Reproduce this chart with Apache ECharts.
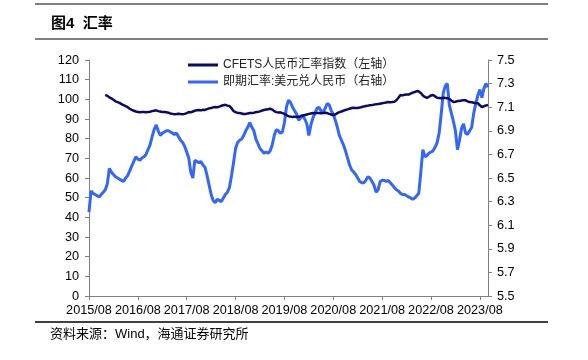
<!DOCTYPE html>
<html>
<head>
<meta charset="utf-8">
<script src="https://cdn.jsdelivr.net/npm/echarts@6/dist/echarts.min.js"></script>
<style>
html,body{margin:0;padding:0;background:#fff;}
#c{width:588px;height:360px;}
</style>
</head>
<body>
<div id="c"></div>
<script>
// Semi-monthly date categories, 2015/08 .. 2023/10
const categories = [];
for (let i = 0; i < 197; i++) {
  const m = 7 + Math.floor(i / 2);
  const y = 2015 + Math.floor(m / 12);
  const mm = String(m % 12 + 1).padStart(2, '0');
  categories.push(y + '/' + mm + '/' + (i % 2 ? '16' : '01'));
}

const seriesNames = ['CFETS人民币汇率指数（左轴）', '即期汇率:美元兑人民币（右轴）'];

// CFETS index (left axis), starts 2015/12
const cfets = [
  null, null, null, null, null, null, null, null,
  102.3, 101.8,
  101.0, 100.5, 99.8, 99.0, 98.6, 98.2, 97.6, 97.0, 96.5, 96.0,
  95.2, 94.6, 94.2, 93.8, 93.6, 93.4, 93.5, 93.6, 93.4, 93.5,
  93.7, 94.0, 94.2, 94.4, 94.0, 93.8, 93.5, 93.6, 93.4, 93.2,
  92.8, 92.6, 92.4, 92.5, 92.7, 92.5, 92.4, 92.6, 93.0, 93.5,
  93.4, 93.8, 94.2, 94.5, 94.6, 94.4, 94.7, 94.6, 95.0, 95.4,
  95.6, 95.9, 96.1, 96.0, 96.3, 96.7, 97.0, 97.2, 96.8, 96.6,
  95.5, 94.0, 93.5, 93.1, 93.0, 92.8, 92.5, 92.6, 92.8, 93.0,
  93.0, 93.2, 93.5, 93.6, 93.9, 94.3, 94.6, 94.8, 95.0, 95.2,
  94.8, 94.0, 93.5, 93.3, 93.4, 93.0, 92.6, 92.0, 91.4, 91.2,
  91.0, 91.2, 91.0, 91.1, 91.5, 91.8, 92.0, 92.3, 92.6, 92.8,
  93.0, 92.9, 93.0, 93.1, 92.9, 93.0, 93.2, 93.0, 92.6, 92.3,
  92.0, 92.3, 93.0, 93.5, 93.8, 94.2, 94.6, 94.9, 95.2, 95.6,
  95.7, 95.6, 95.6, 95.8, 96.1, 96.4, 96.6, 96.8, 97.0, 97.1,
  97.3, 97.5, 97.6, 97.8, 98.0, 98.2, 98.4, 98.6, 98.5, 98.6,
  98.8, 99.5, 100.8, 102.2, 102.0, 102.3, 102.5, 102.4, 102.9, 103.4,
  103.7, 104.2, 104.0, 103.2, 102.0, 101.2, 100.7, 101.3, 102.0, 102.2,
  101.5, 100.8, 100.7, 100.6, 100.8, 100.7, 100.6, 100.2, 99.4, 98.7,
  98.8, 99.1, 99.2, 99.4, 99.6, 99.5, 99.0, 98.6, 98.5, 98.3,
  98.1, 98.0, 97.0, 96.1, 96.5, 96.9, 97.1
];

// USD/CNY spot (right axis)
const usdcny = [
  6.21, 6.39, 6.37, 6.36, 6.35, 6.34, 6.36, 6.38, 6.40, 6.45,
  6.58, 6.55, 6.53, 6.51, 6.50, 6.49, 6.48, 6.47, 6.50, 6.52,
  6.56, 6.60, 6.64, 6.68, 6.66, 6.65, 6.67, 6.68, 6.70, 6.74,
  6.78, 6.85, 6.91, 6.95, 6.90, 6.86, 6.88, 6.89, 6.90, 6.90,
  6.89, 6.88, 6.87, 6.88, 6.85, 6.82, 6.80, 6.77, 6.72, 6.67,
  6.55, 6.50, 6.65, 6.64, 6.63, 6.64, 6.61, 6.59, 6.52, 6.44,
  6.36, 6.31, 6.29, 6.32, 6.31, 6.30, 6.33, 6.36, 6.38, 6.42,
  6.52, 6.63, 6.75, 6.80, 6.82, 6.83, 6.86, 6.90, 6.93, 6.97,
  6.93, 6.90, 6.83, 6.79, 6.75, 6.73, 6.71, 6.72, 6.71, 6.73,
  6.78, 6.86, 6.91, 6.90, 6.88, 6.89, 6.97, 7.10, 7.16, 7.14,
  7.10, 7.07, 7.04, 6.99, 7.01, 7.03, 7.00, 6.96, 6.86, 6.95,
  7.01, 7.05, 7.09, 7.10, 7.07, 7.06, 7.09, 7.13, 7.12, 7.07,
  7.04, 6.99, 6.93, 6.86, 6.82, 6.78, 6.73, 6.67, 6.61, 6.57,
  6.55, 6.53, 6.50, 6.47, 6.46, 6.46, 6.48, 6.51, 6.50, 6.47,
  6.44, 6.38, 6.40, 6.47, 6.48, 6.48, 6.47, 6.48, 6.46, 6.44,
  6.42, 6.40, 6.39, 6.37, 6.36, 6.36, 6.35, 6.34, 6.33, 6.32,
  6.33, 6.35, 6.37, 6.55, 6.74, 6.68, 6.69, 6.71, 6.72, 6.73,
  6.76, 6.80, 6.88, 7.04, 7.22, 7.28, 7.30, 7.12, 7.05, 6.98,
  6.90, 6.74, 6.82, 6.92, 6.96, 6.88, 6.87, 6.90, 6.93, 7.05,
  7.13, 7.20, 7.25, 7.18, 7.26, 7.30, 7.27
];

const rightTicks = [5.5, 5.7, 5.9, 6.1, 6.3, 6.5, 6.7, 6.9, 7.1, 7.3, 7.5];

const latin = 'Liberation Sans, Arial, Noto Sans CJK SC, sans-serif';
const cjk = 'Liberation Sans, Noto Sans CJK SC, sans-serif';

const chart = echarts.init(document.getElementById('c'), null, {renderer: 'canvas'});
chart.setOption({
  animation: false,
  backgroundColor: '#fff',
  title: {
    text: '图4  汇率',
    left: 46, top: 11,
    textStyle: {fontFamily: cjk, fontSize: 15, fontWeight: 'bold', color: '#000'}
  },
  graphic: [
    {type: 'line', shape: {x1: 35, y1: 4, x2: 548, y2: 4}, style: {stroke: '#808080', lineWidth: 2}},
    {type: 'line', shape: {x1: 35, y1: 39, x2: 548, y2: 39}, style: {stroke: '#808080', lineWidth: 2}},
    {type: 'line', shape: {x1: 35, y1: 322, x2: 548, y2: 322}, style: {stroke: '#000', lineWidth: 1.5}},
    {type: 'text', left: 50, top: 328, style: {text: '资料来源：Wind，海通证券研究所', fontFamily: cjk, fontSize: 13, fill: '#000'}}
  ],
  legend: {
    orient: 'vertical',
    left: 183, top: 53,
    icon: 'rect', itemWidth: 30, itemHeight: 3, itemGap: 3,
    textStyle: {fontFamily: cjk, fontSize: 12, color: '#222', lineHeight: 14},
    data: seriesNames
  },
  grid: {left: 89, right: 100, top: 60, bottom: 64, containLabel: false},
  xAxis: {
    type: 'category',
    data: categories,
    boundaryGap: false,
    axisLine: {lineStyle: {color: '#808080', width: 1}},
    axisTick: {interval: 23, length: 4, lineStyle: {color: '#808080'}},
    axisLabel: {
      interval: 23, margin: 8, color: '#000',
      fontFamily: latin, fontSize: 12.7,
      formatter: v => v.slice(0, 7)
    },
    splitLine: {show: false}
  },
  yAxis: [
    {
      type: 'value', min: 0, max: 120, interval: 10,
      axisLine: {show: true, lineStyle: {color: '#808080'}},
      axisTick: {show: true, length: 4, lineStyle: {color: '#808080'}},
      axisLabel: {color: '#000', fontFamily: latin, fontSize: 12.7, margin: 10},
      splitLine: {show: false}
    },
    {
      type: 'value', min: 5.5, max: 7.5, position: 'right',
      axisLine: {show: true, lineStyle: {color: '#808080'}},
      axisTick: {show: true, length: 4, lineStyle: {color: '#808080'}, customValues: rightTicks},
      axisLabel: {color: '#000', fontFamily: latin, fontSize: 12.7, margin: 9,
        customValues: rightTicks, formatter: v => Number(v).toFixed(1)},
      splitLine: {show: false}
    }
  ],
  series: [
    {
      name: seriesNames[0], type: 'line', yAxisIndex: 0,
      data: cfets, symbol: 'none', showSymbol: false,
      lineStyle: {color: '#0a0a6b', width: 2.5},
      itemStyle: {color: '#0a0a6b'}, z: 3
    },
    {
      name: seriesNames[1], type: 'line', yAxisIndex: 1,
      data: usdcny, symbol: 'none', showSymbol: false,
      lineStyle: {color: '#3366ff', width: 3},
      itemStyle: {color: '#3366ff'}, z: 2
    }
  ]
});
</script>
</body>
</html>
